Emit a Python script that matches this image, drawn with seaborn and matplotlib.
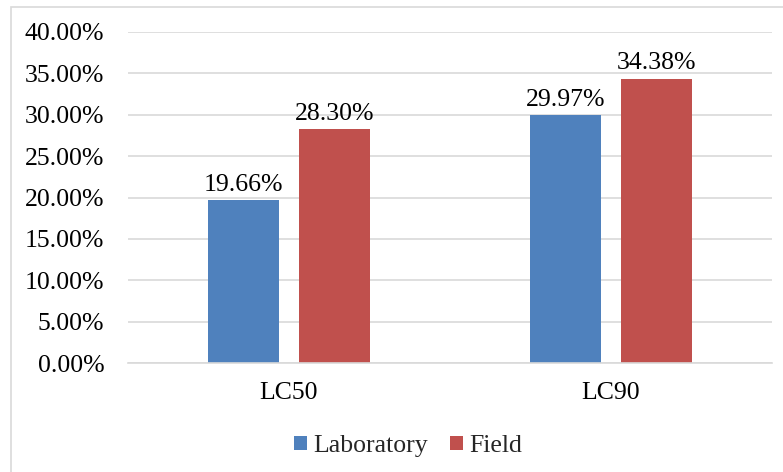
import matplotlib
matplotlib.use("Agg")
import matplotlib.pyplot as plt
from matplotlib.patches import Rectangle
from matplotlib.ticker import FuncFormatter, MultipleLocator
import seaborn as sns
import pandas as pd

categories = ["LC50", "LC90"]
series = ["Laboratory", "Field"]
laboratory = [0.1966, 0.2997]
field = [0.2830, 0.3438]
colors = ["#4F81BD", "#C0504D"]

df = pd.DataFrame({
    "cat": categories * 2,
    "series": [series[0]] * 2 + [series[1]] * 2,
    "value": laboratory + field,
})

sns.set_theme(style="white")
plt.rcParams["font.family"] = ["Liberation Serif", "DejaVu Serif"]
FS = 18.5

fig = plt.figure(figsize=(7.83, 4.72), dpi=100)
ax = fig.add_axes([128/783, 1-363/472, (772-128)/783, (363-32)/472])

fig.patches.append(Rectangle((11/783, -0.1), 1.2, 1 - 7/472 + 0.1,
                             transform=fig.transFigure, fill=False,
                             edgecolor="#d9d9d9", linewidth=1.2))

sns.barplot(data=df, x="cat", y="value", hue="series", palette=colors,
            width=0.565, gap=0.21, ax=ax, saturation=1, legend=True,
            linewidth=0)

ax.set_ylim(0, 0.40)
ax.yaxis.set_major_locator(MultipleLocator(0.05))
ax.yaxis.set_major_formatter(FuncFormatter(lambda v, p: f"{v*100:.2f}%"))
ax.grid(axis="y", color="#d9d9d9", linewidth=1.2)
ax.set_axisbelow(True)
for s in ["top", "right", "left"]:
    ax.spines[s].set_visible(False)
ax.spines["bottom"].set_color("#d9d9d9")
ax.spines["bottom"].set_linewidth(1.2)
ax.tick_params(axis="y", length=0, pad=17, labelsize=FS, colors="black")
ax.tick_params(axis="x", length=0, pad=14, labelsize=FS, colors="black")
ax.set_xlabel("")
ax.set_ylabel("")

for cont in ax.containers:
    ax.bar_label(cont, labels=[f"{v*100:.2f}%" for v in cont.datavalues],
                 padding=3, fontsize=FS, color="black")

ax.get_legend().remove()
handles, labels = ax.get_legend_handles_labels()
leg = fig.legend(handles, labels, loc="center", bbox_to_anchor=(408/783, 1-446/472),
                 ncol=2, frameon=False, fontsize=FS, handlelength=0.5,
                 handleheight=0.5, handletextpad=0.25, columnspacing=0.85)
for t in leg.get_texts():
    t.set_fontfamily("Liberation Serif")
    t.set_fontsize(FS)

fig.savefig("out.png", dpi=100)
